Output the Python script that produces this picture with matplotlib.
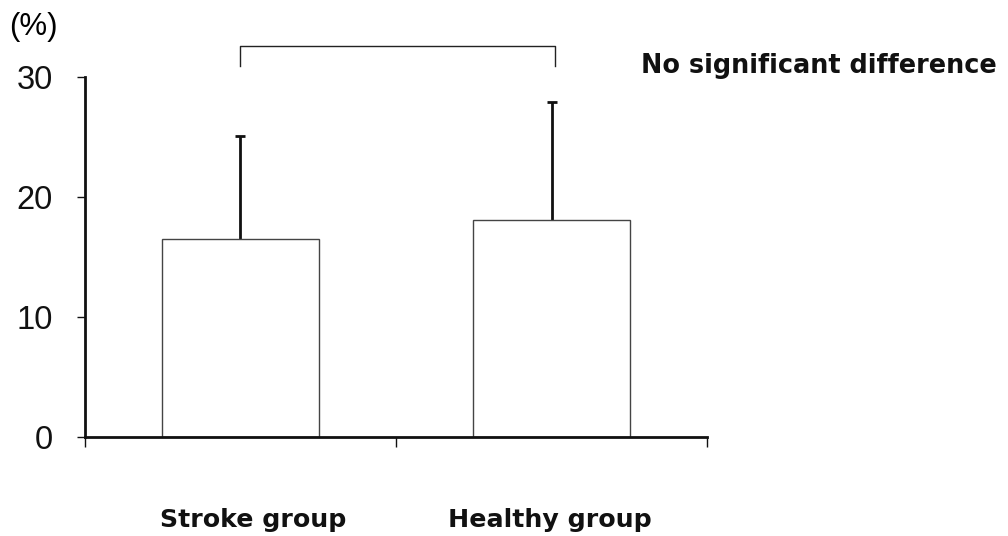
import matplotlib
matplotlib.use("Agg")
import matplotlib.pyplot as plt

# values
groups = ["Stroke group", "Healthy group"]
means = [16.5, 18.1]
sd_upper = [8.6, 9.8]
yticks = [0, 10, 20, 30]
note = "No significant difference"

fig = plt.figure(figsize=(10.08, 5.36), dpi=100)
ax = fig.add_axes([0.0843, 0.1847, 0.6171, 0.6716])

x = [0, 1]
# error bars drawn below the white bars so only the upper half shows
ax.errorbar(x, means, yerr=sd_upper, fmt="none", ecolor="#111111",
            elinewidth=2.0, capsize=3.6, capthick=2.0, zorder=1)
ax.bar(x, means, width=0.505, color="white", edgecolor="#444444", linewidth=1.0, zorder=2)

ax.set_xlim(-0.5, 1.5)
ax.set_ylim(0, 30)

for side in ["top", "right"]:
    ax.spines[side].set_visible(False)
for side in ["left", "bottom"]:
    ax.spines[side].set_linewidth(2.0)
    ax.spines[side].set_color("#111111")
    ax.spines[side].set_zorder(4)

ax.set_yticks(yticks)
ax.set_yticklabels([str(t) for t in yticks], fontsize=23.5, family="Liberation Sans")
ax.tick_params(axis="y", direction="out", length=6, width=1.0, pad=17, colors="#111111")

# x ticks sit at the group boundaries, labels go under the bars
ax.set_xticks([-0.5, 0.5, 1.5])
ax.set_xticklabels([])
ax.tick_params(axis="x", direction="out", length=7, width=1.0, colors="#111111")
label_shift = [9, -1]  # points, the labels are not quite centred in the original
for xi, g, dx in zip(x, groups, label_shift):
    ax.annotate(g, xy=(xi, 0), xycoords="data", xytext=(dx, -51), textcoords="offset points",
                ha="center", va="top", fontsize=18.2, fontweight="bold", color="#111111")

# comparison bracket
ax.plot([0, 0, 1.01, 1.01], [30.9, 32.6, 32.6, 30.9], color="#222222", lw=1.0, clip_on=False)

fig.text(0.009, 0.95, "(%)", fontsize=22.5, family="Liberation Sans", va="center", ha="left")
fig.text(0.636, 0.877, note, fontsize=18.4, fontweight="bold", va="center", ha="left", color="#111111")

fig.savefig("out.png", dpi=100)
